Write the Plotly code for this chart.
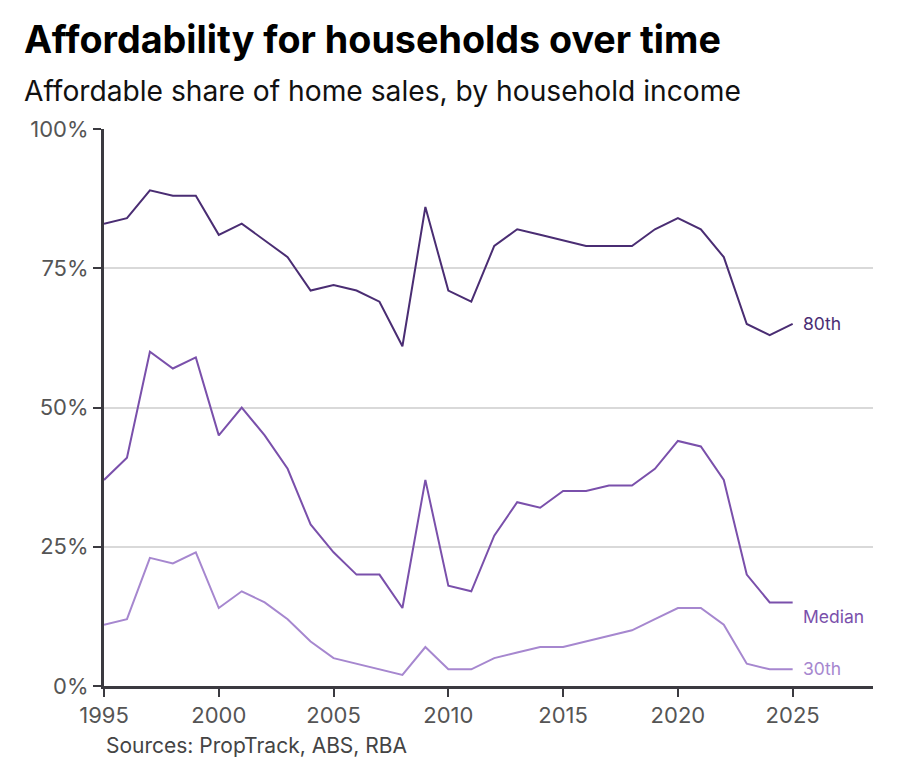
import plotly.graph_objects as go

years = list(range(1995, 2026))
p80 = [83, 84, 89, 88, 88, 81, 83, 80, 77, 71, 72, 71, 69, 61, 86, 71, 69, 79, 82, 81, 80, 79, 79, 79, 82, 84, 82, 77, 65, 63, 65]
median = [37, 41, 60, 57, 59, 45, 50, 45, 39, 29, 24, 20, 20, 14, 37, 18, 17, 27, 33, 32, 35, 35, 36, 36, 39, 44, 43, 37, 20, 15, 15]
p30 = [11, 12, 23, 22, 24, 14, 17, 15, 12, 8, 5, 4, 3, 2, 7, 3, 3, 5, 6, 7, 7, 8, 9, 10, 12, 14, 14, 11, 4, 3, 3]

series = [("80th", p80, "#4a2d73", 65), ("Median", median, "#7a50ab", 12.5), ("30th", p30, "#a687cf", 3.2)]
x_ticks = [1995, 2000, 2005, 2010, 2015, 2020, 2025]
y_ticks = [0, 25, 50, 75, 100]
y_labels = ["0%", "25%", "50%", "75%", "100%"]

FONT = "Inter"
fig = go.Figure()
annotations = []
for name, vals, color, ly in series:
    fig.add_trace(go.Scatter(x=years, y=vals, mode="lines", name=name,
                             line=dict(color=color, width=2), hoverinfo="skip"))
    annotations.append(dict(x=years[-1], y=ly, xref="x", yref="y", text=name,
                            showarrow=False, xanchor="left", yanchor="middle", xshift=8,
                            font=dict(family=FONT, size=17.5, color=color)))

annotations += [
    dict(x=-0.107, y=1.162, xref="paper", yref="paper", text="<b>Affordability for households over time</b>",
         showarrow=False, xanchor="left", yanchor="middle",
         font=dict(family=FONT, size=37.7, color="#000", weight=800)),
    dict(x=-0.107, y=1.068, xref="paper", yref="paper", text="Affordable share of home sales, by household income",
         showarrow=False, xanchor="left", yanchor="middle", font=dict(family=FONT, size=28.2, color="#111")),
    dict(x=0.0, y=-0.106, xref="paper", yref="paper", text="Sources: PropTrack, ABS, RBA",
         showarrow=False, xanchor="left", yanchor="middle", font=dict(family=FONT, size=21, color="#444")),
]

# page body adds an 8px offset; compensate in margins (plot area stays 769x557)
fig.update_layout(
    width=904, height=769,
    margin=dict(l=96, r=39, t=121, b=91),
    paper_bgcolor="white", plot_bgcolor="white",
    showlegend=False,
    annotations=annotations,
    font=dict(family=FONT),
)
fig.update_xaxes(range=[1995, 2028.5], tickvals=x_ticks, ticktext=[str(t) for t in x_ticks],
                 showgrid=False, zeroline=False, showline=True, linecolor="#3b3a40", linewidth=3,
                 ticks="outside", ticklen=8, tickwidth=2, tickcolor="#3b3a40",
                 tickfont=dict(family=FONT, size=22, color="#555"))
fig.update_yaxes(range=[0, 100], tickvals=y_ticks, ticktext=y_labels,
                 showgrid=True, gridcolor="#d9d9d9", gridwidth=2, zeroline=False,
                 showline=True, linecolor="#3b3a40", linewidth=3,
                 ticks="outside", ticklen=8, tickwidth=2, tickcolor="#3b3a40",
                 tickfont=dict(family=FONT, size=22, color="#555"))

fig.write_html("out.html")
